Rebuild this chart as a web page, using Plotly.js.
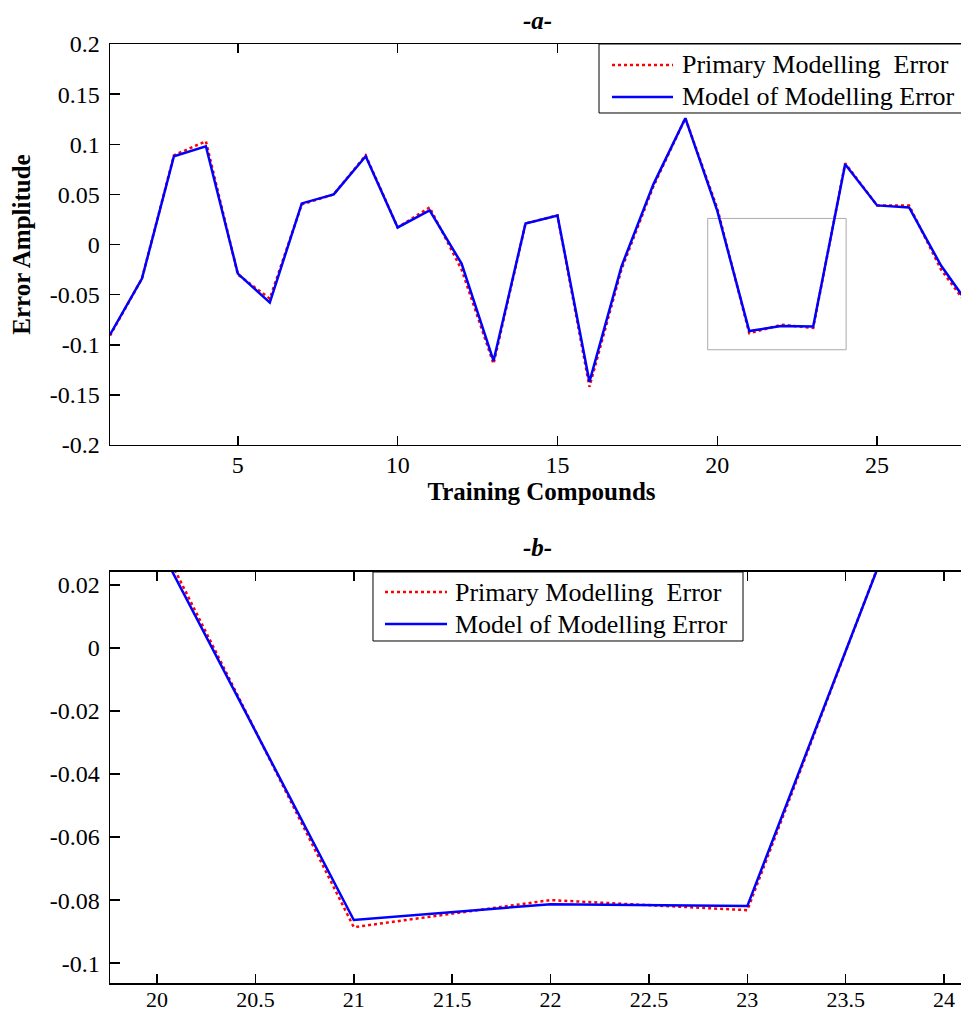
<!DOCTYPE html>
<html>
<head>
<meta charset="utf-8">
<script src="https://cdn.plot.ly/plotly-3.0.1.min.js"></script>
<style>
html, body { margin: 0; padding: 0; overflow: hidden; background: #fff; }
#chart { width: 975px; height: 1013px; }
</style>
</head>
<body>
<div id="chart"></div>
<script>
// ---- data ----
const compounds = [1,2,3,4,5,6,7,8,9,10,11,12,13,14,15,16,17,18,19,20,21,22,23,24,25,26,27,28];
const primaryError = [-0.091,-0.034,0.089,0.103,-0.030,-0.054,0.040,0.050,0.089,0.017,0.037,-0.025,-0.119,0.021,0.029,-0.142,-0.025,0.058,0.126,0.036,-0.0886,-0.0800,-0.0832,0.081,0.039,0.039,-0.025,-0.068];
const modelError = [-0.090,-0.034,0.088,0.098,-0.029,-0.058,0.041,0.050,0.088,0.017,0.034,-0.019,-0.116,0.021,0.029,-0.137,-0.022,0.060,0.126,0.0335,-0.0863,-0.0813,-0.0819,0.080,0.039,0.037,-0.021,-0.066];
const seriesNames = ['Primary Modelling  Error', 'Model of Modelling Error'];

const yTickValsA = [0.2,0.15,0.1,0.05,0,-0.05,-0.1,-0.15,-0.2];
const yTickTextA = ['0.2','0.15','0.1','0.05','0','-0.05','-0.1','-0.15','-0.2'];
const xTickValsA = [5,10,15,20,25];
const yTickValsB = [0.02,0,-0.02,-0.04,-0.06,-0.08,-0.1];
const yTickTextB = ['0.02','0','-0.02','-0.04','-0.06','-0.08','-0.1'];
const xTickValsB = [20,20.5,21,21.5,22,22.5,23,23.5,24];

// ---- styling ----
const FONT = "'Liberation Serif', 'Times New Roman', serif";
const RED = '#ff0000', BLUE = '#0000ff';
const redLine = {color: RED, width: 2.5, dash: 'dot'};
const blueLine = {color: BLUE, width: 2.5};

const traces = [
  {x: compounds, y: primaryError, type: 'scatter', mode: 'lines', name: seriesNames[0], line: redLine, xaxis: 'x', yaxis: 'y'},
  {x: compounds, y: modelError, type: 'scatter', mode: 'lines', name: seriesNames[1], line: blueLine, xaxis: 'x', yaxis: 'y'},
  {x: compounds, y: primaryError, type: 'scatter', mode: 'lines', name: seriesNames[0], line: redLine, xaxis: 'x2', yaxis: 'y2'},
  {x: compounds, y: modelError, type: 'scatter', mode: 'lines', name: seriesNames[1], line: blueLine, xaxis: 'x2', yaxis: 'y2'}
];

const axisCommon = {
  showline: true, linecolor: '#000', linewidth: 1.5, mirror: 'ticks',
  ticks: 'inside', tickcolor: '#000', tickwidth: 1.5,
  showgrid: false, zeroline: false,
  tickfont: {family: FONT, size: 24, color: '#000'}
};

// manual legend boxes (paper coordinates)
function legendBox(x0, x1, y0, y1, lineX0, lineX1, rowY, textX) {
  const shapes = [
    {type: 'rect', xref: 'paper', yref: 'paper', x0: x0, x1: x1, y0: y0, y1: y1,
     line: {color: '#000', width: 1}, fillcolor: '#fff', layer: 'above'},
    {type: 'line', xref: 'paper', yref: 'paper', x0: lineX0, x1: lineX1, y0: rowY[0], y1: rowY[0],
     line: redLine, layer: 'above'},
    {type: 'line', xref: 'paper', yref: 'paper', x0: lineX0, x1: lineX1, y0: rowY[1], y1: rowY[1],
     line: blueLine, layer: 'above'}
  ];
  const annos = seriesNames.map((n, i) => ({
    text: n, xref: 'paper', yref: 'paper', x: textX, y: rowY[i], showarrow: false,
    xanchor: 'left', yanchor: 'middle', font: {family: FONT, size: 26, color: '#000'}
  }));
  return {shapes, annos};
}
const legA = legendBox(0.56663, 1.0, 0.92652, 1.0, 0.58169, 0.65238, [0.97764, 0.94356], 0.66048);
const legB = legendBox(0.30475, 0.73349, 0.36422, 0.43770, 0.31866, 0.39050, [0.41640, 0.38232], 0.39745);

const layout = {
  width: 975, height: 1013,
  margin: {l: 110, r: 2, t: 44, b: 30},
  paper_bgcolor: '#fff', plot_bgcolor: '#fff',
  showlegend: false,
  xaxis: Object.assign({}, axisCommon, {
    domain: [0, 1], anchor: 'y', range: [1, 28],
    tickmode: 'array', tickvals: xTickValsA, ticklen: 9, ticklabelstandoff: -2,
    title: {text: '<b>Training Compounds</b>', font: {family: FONT, size: 25, color: '#000'}, standoff: 4}
  }),
  yaxis: Object.assign({}, axisCommon, {
    domain: [0.57295, 1], anchor: 'x', range: [-0.2, 0.2],
    tickmode: 'array', tickvals: yTickValsA, ticktext: yTickTextA, ticklen: 10, ticklabelstandoff: 4,
    title: {text: '<b>Error Amplitude</b>', font: {family: FONT, size: 25, color: '#000'}, standoff: 12}
  }),
  xaxis2: Object.assign({}, axisCommon, {
    domain: [0, 1], anchor: 'y2', range: [19.761, 24.147],
    tickmode: 'array', tickvals: xTickValsB, ticklen: 9, ticklabelstandoff: -4,
    tickfont: {family: FONT, size: 22, color: '#000'}
  }),
  yaxis2: Object.assign({}, axisCommon, {
    domain: [0, 0.4377], anchor: 'x2', range: [-0.1063, 0.0241],
    tickmode: 'array', tickvals: yTickValsB, ticktext: yTickTextB, ticklen: 10, ticklabelstandoff: 4
  }),
  shapes: [
    {type: 'rect', xref: 'x', yref: 'y', x0: 19.7, x1: 24.03, y0: -0.105, y1: 0.026,
     line: {color: '#aaaaaa', width: 1}, fillcolor: 'rgba(0,0,0,0)', layer: 'below'}
  ].concat(legA.shapes, legB.shapes),
  annotations: [
    {text: '<b><i>-a-</i></b>', xref: 'paper', yref: 'paper', x: 0.4948, y: 1.0245, showarrow: false,
     xanchor: 'center', yanchor: 'middle', font: {family: FONT, size: 25, color: '#000'}},
    {text: '<b><i>-b-</i></b>', xref: 'paper', yref: 'paper', x: 0.4948, y: 0.4633, showarrow: false,
     xanchor: 'center', yanchor: 'middle', font: {family: FONT, size: 25, color: '#000'}}
  ].concat(legA.annos, legB.annos)
};

Plotly.newPlot('chart', traces, layout, {displayModeBar: false, staticPlot: true});
</script>
</body>
</html>
